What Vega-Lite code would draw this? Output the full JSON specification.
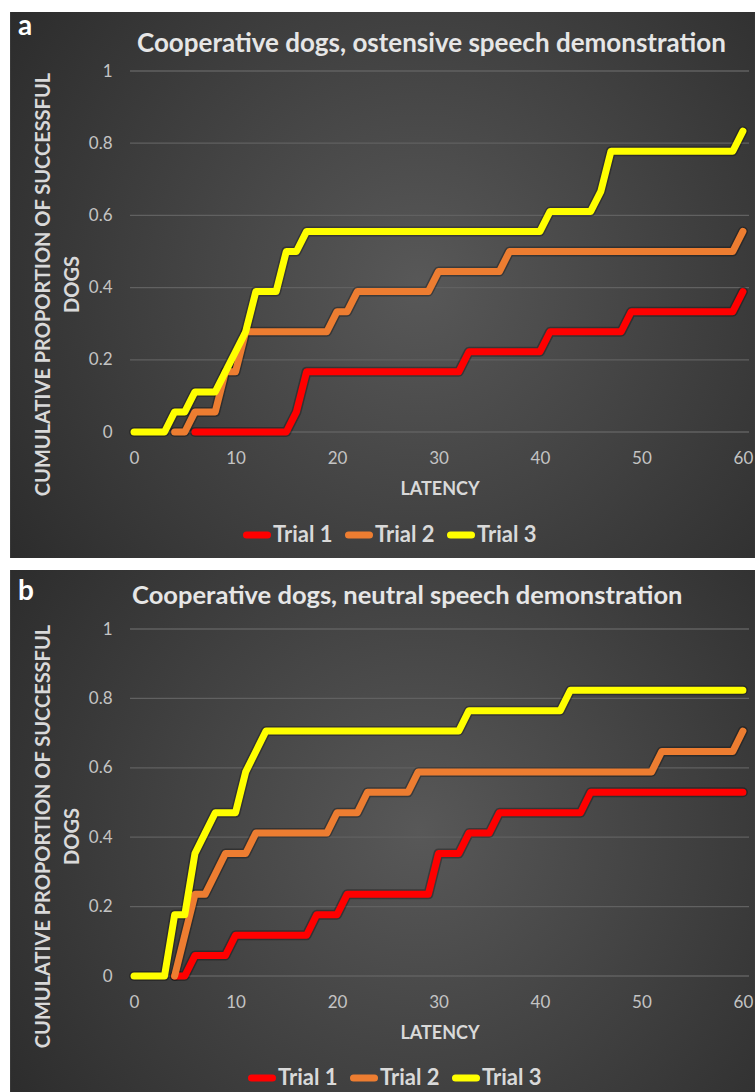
{
  "$schema": "https://vega.github.io/schema/vega-lite/v6.json",
  "background": "white",
  "padding": {"left": 10, "top": 12, "right": 0, "bottom": 0},
  "spacing": 12,
  "resolve": {"scale": {"color": "independent"}, "legend": {"color": "independent"}},
  "config": {
    "font": "Lato",
    "view": {"stroke": null},
    "axis": {"grid": false, "domain": false, "ticks": false, "tickSize": 0, "zindex": 1, "labelFont": "Lato", "labelFontSize": 17, "labelColor": "#c4c4c4", "labelPadding": 18, "titleFont": "Lato", "titleFontSize": 18, "titleFontWeight": "bold", "titleColor": "#d9d9d9"},
    "axisX": {"titlePadding": 14, "format": "d"},
    "axisY": {"titlePadding": 6, "titleLineHeight": 29, "titleFontSize": 20, "format": "~g"},
    "legend": {"orient": "none", "direction": "horizontal", "title": null, "symbolType": "stroke", "symbolSize": 441, "symbolStrokeWidth": 7, "labelFont": "Lato", "labelFontSize": 22, "labelFontWeight": "bold", "labelColor": "#d9d9d9", "labelOffset": 2, "columnPadding": 1, "padding": 0, "labelLimit": 200}
  },
  "datasets": {
    "grid": [{"g": 0}, {"g": 0.2}, {"g": 0.4}, {"g": 0.6}, {"g": 0.8}, {"g": 1}],
    "a": [
      {"t":6,"s":"Trial 1","p":0},{"t":7,"s":"Trial 1","p":0},{"t":8,"s":"Trial 1","p":0},{"t":9,"s":"Trial 1","p":0},{"t":10,"s":"Trial 1","p":0},{"t":11,"s":"Trial 1","p":0},{"t":12,"s":"Trial 1","p":0},{"t":13,"s":"Trial 1","p":0},{"t":14,"s":"Trial 1","p":0},{"t":15,"s":"Trial 1","p":0},
      {"t":16,"s":"Trial 1","p":0.0556},
      {"t":17,"s":"Trial 1","p":0.1667},{"t":18,"s":"Trial 1","p":0.1667},{"t":19,"s":"Trial 1","p":0.1667},{"t":20,"s":"Trial 1","p":0.1667},{"t":21,"s":"Trial 1","p":0.1667},{"t":22,"s":"Trial 1","p":0.1667},{"t":23,"s":"Trial 1","p":0.1667},{"t":24,"s":"Trial 1","p":0.1667},{"t":25,"s":"Trial 1","p":0.1667},{"t":26,"s":"Trial 1","p":0.1667},{"t":27,"s":"Trial 1","p":0.1667},{"t":28,"s":"Trial 1","p":0.1667},{"t":29,"s":"Trial 1","p":0.1667},{"t":30,"s":"Trial 1","p":0.1667},{"t":31,"s":"Trial 1","p":0.1667},{"t":32,"s":"Trial 1","p":0.1667},
      {"t":33,"s":"Trial 1","p":0.2222},{"t":34,"s":"Trial 1","p":0.2222},{"t":35,"s":"Trial 1","p":0.2222},{"t":36,"s":"Trial 1","p":0.2222},{"t":37,"s":"Trial 1","p":0.2222},{"t":38,"s":"Trial 1","p":0.2222},{"t":39,"s":"Trial 1","p":0.2222},{"t":40,"s":"Trial 1","p":0.2222},
      {"t":41,"s":"Trial 1","p":0.2778},{"t":42,"s":"Trial 1","p":0.2778},{"t":43,"s":"Trial 1","p":0.2778},{"t":44,"s":"Trial 1","p":0.2778},{"t":45,"s":"Trial 1","p":0.2778},{"t":46,"s":"Trial 1","p":0.2778},{"t":47,"s":"Trial 1","p":0.2778},{"t":48,"s":"Trial 1","p":0.2778},
      {"t":49,"s":"Trial 1","p":0.3333},{"t":50,"s":"Trial 1","p":0.3333},{"t":51,"s":"Trial 1","p":0.3333},{"t":52,"s":"Trial 1","p":0.3333},{"t":53,"s":"Trial 1","p":0.3333},{"t":54,"s":"Trial 1","p":0.3333},{"t":55,"s":"Trial 1","p":0.3333},{"t":56,"s":"Trial 1","p":0.3333},{"t":57,"s":"Trial 1","p":0.3333},{"t":58,"s":"Trial 1","p":0.3333},{"t":59,"s":"Trial 1","p":0.3333},
      {"t":60,"s":"Trial 1","p":0.3889},
      {"t":4,"s":"Trial 2","p":0},{"t":5,"s":"Trial 2","p":0},
      {"t":6,"s":"Trial 2","p":0.0556},{"t":7,"s":"Trial 2","p":0.0556},{"t":8,"s":"Trial 2","p":0.0556},
      {"t":9,"s":"Trial 2","p":0.1667},{"t":10,"s":"Trial 2","p":0.1667},
      {"t":11,"s":"Trial 2","p":0.2778},{"t":12,"s":"Trial 2","p":0.2778},{"t":13,"s":"Trial 2","p":0.2778},{"t":14,"s":"Trial 2","p":0.2778},{"t":15,"s":"Trial 2","p":0.2778},{"t":16,"s":"Trial 2","p":0.2778},{"t":17,"s":"Trial 2","p":0.2778},{"t":18,"s":"Trial 2","p":0.2778},{"t":19,"s":"Trial 2","p":0.2778},
      {"t":20,"s":"Trial 2","p":0.3333},{"t":21,"s":"Trial 2","p":0.3333},
      {"t":22,"s":"Trial 2","p":0.3889},{"t":23,"s":"Trial 2","p":0.3889},{"t":24,"s":"Trial 2","p":0.3889},{"t":25,"s":"Trial 2","p":0.3889},{"t":26,"s":"Trial 2","p":0.3889},{"t":27,"s":"Trial 2","p":0.3889},{"t":28,"s":"Trial 2","p":0.3889},{"t":29,"s":"Trial 2","p":0.3889},
      {"t":30,"s":"Trial 2","p":0.4444},{"t":31,"s":"Trial 2","p":0.4444},{"t":32,"s":"Trial 2","p":0.4444},{"t":33,"s":"Trial 2","p":0.4444},{"t":34,"s":"Trial 2","p":0.4444},{"t":35,"s":"Trial 2","p":0.4444},{"t":36,"s":"Trial 2","p":0.4444},
      {"t":37,"s":"Trial 2","p":0.5},{"t":38,"s":"Trial 2","p":0.5},{"t":39,"s":"Trial 2","p":0.5},{"t":40,"s":"Trial 2","p":0.5},{"t":41,"s":"Trial 2","p":0.5},{"t":42,"s":"Trial 2","p":0.5},{"t":43,"s":"Trial 2","p":0.5},{"t":44,"s":"Trial 2","p":0.5},{"t":45,"s":"Trial 2","p":0.5},{"t":46,"s":"Trial 2","p":0.5},{"t":47,"s":"Trial 2","p":0.5},{"t":48,"s":"Trial 2","p":0.5},{"t":49,"s":"Trial 2","p":0.5},{"t":50,"s":"Trial 2","p":0.5},{"t":51,"s":"Trial 2","p":0.5},{"t":52,"s":"Trial 2","p":0.5},{"t":53,"s":"Trial 2","p":0.5},{"t":54,"s":"Trial 2","p":0.5},{"t":55,"s":"Trial 2","p":0.5},{"t":56,"s":"Trial 2","p":0.5},{"t":57,"s":"Trial 2","p":0.5},{"t":58,"s":"Trial 2","p":0.5},{"t":59,"s":"Trial 2","p":0.5},
      {"t":60,"s":"Trial 2","p":0.5556},
      {"t":0,"s":"Trial 3","p":0},{"t":1,"s":"Trial 3","p":0},{"t":2,"s":"Trial 3","p":0},{"t":3,"s":"Trial 3","p":0},
      {"t":4,"s":"Trial 3","p":0.0556},{"t":5,"s":"Trial 3","p":0.0556},
      {"t":6,"s":"Trial 3","p":0.1111},{"t":7,"s":"Trial 3","p":0.1111},{"t":8,"s":"Trial 3","p":0.1111},
      {"t":9,"s":"Trial 3","p":0.1667},{"t":10,"s":"Trial 3","p":0.2222},{"t":11,"s":"Trial 3","p":0.2778},
      {"t":12,"s":"Trial 3","p":0.3889},{"t":13,"s":"Trial 3","p":0.3889},{"t":14,"s":"Trial 3","p":0.3889},
      {"t":15,"s":"Trial 3","p":0.5},{"t":16,"s":"Trial 3","p":0.5},
      {"t":17,"s":"Trial 3","p":0.5556},{"t":18,"s":"Trial 3","p":0.5556},{"t":19,"s":"Trial 3","p":0.5556},{"t":20,"s":"Trial 3","p":0.5556},{"t":21,"s":"Trial 3","p":0.5556},{"t":22,"s":"Trial 3","p":0.5556},{"t":23,"s":"Trial 3","p":0.5556},{"t":24,"s":"Trial 3","p":0.5556},{"t":25,"s":"Trial 3","p":0.5556},{"t":26,"s":"Trial 3","p":0.5556},{"t":27,"s":"Trial 3","p":0.5556},{"t":28,"s":"Trial 3","p":0.5556},{"t":29,"s":"Trial 3","p":0.5556},{"t":30,"s":"Trial 3","p":0.5556},{"t":31,"s":"Trial 3","p":0.5556},{"t":32,"s":"Trial 3","p":0.5556},{"t":33,"s":"Trial 3","p":0.5556},{"t":34,"s":"Trial 3","p":0.5556},{"t":35,"s":"Trial 3","p":0.5556},{"t":36,"s":"Trial 3","p":0.5556},{"t":37,"s":"Trial 3","p":0.5556},{"t":38,"s":"Trial 3","p":0.5556},{"t":39,"s":"Trial 3","p":0.5556},{"t":40,"s":"Trial 3","p":0.5556},
      {"t":41,"s":"Trial 3","p":0.6111},{"t":42,"s":"Trial 3","p":0.6111},{"t":43,"s":"Trial 3","p":0.6111},{"t":44,"s":"Trial 3","p":0.6111},{"t":45,"s":"Trial 3","p":0.6111},
      {"t":46,"s":"Trial 3","p":0.6667},
      {"t":47,"s":"Trial 3","p":0.7778},{"t":48,"s":"Trial 3","p":0.7778},{"t":49,"s":"Trial 3","p":0.7778},{"t":50,"s":"Trial 3","p":0.7778},{"t":51,"s":"Trial 3","p":0.7778},{"t":52,"s":"Trial 3","p":0.7778},{"t":53,"s":"Trial 3","p":0.7778},{"t":54,"s":"Trial 3","p":0.7778},{"t":55,"s":"Trial 3","p":0.7778},{"t":56,"s":"Trial 3","p":0.7778},{"t":57,"s":"Trial 3","p":0.7778},{"t":58,"s":"Trial 3","p":0.7778},{"t":59,"s":"Trial 3","p":0.7778},
      {"t":60,"s":"Trial 3","p":0.8333}
    ],
    "b": [
      {"t":4,"s":"Trial 1","p":0},{"t":5,"s":"Trial 1","p":0},
      {"t":6,"s":"Trial 1","p":0.0588},{"t":7,"s":"Trial 1","p":0.0588},{"t":8,"s":"Trial 1","p":0.0588},{"t":9,"s":"Trial 1","p":0.0588},
      {"t":10,"s":"Trial 1","p":0.1176},{"t":11,"s":"Trial 1","p":0.1176},{"t":12,"s":"Trial 1","p":0.1176},{"t":13,"s":"Trial 1","p":0.1176},{"t":14,"s":"Trial 1","p":0.1176},{"t":15,"s":"Trial 1","p":0.1176},{"t":16,"s":"Trial 1","p":0.1176},{"t":17,"s":"Trial 1","p":0.1176},
      {"t":18,"s":"Trial 1","p":0.1765},{"t":19,"s":"Trial 1","p":0.1765},{"t":20,"s":"Trial 1","p":0.1765},
      {"t":21,"s":"Trial 1","p":0.2353},{"t":22,"s":"Trial 1","p":0.2353},{"t":23,"s":"Trial 1","p":0.2353},{"t":24,"s":"Trial 1","p":0.2353},{"t":25,"s":"Trial 1","p":0.2353},{"t":26,"s":"Trial 1","p":0.2353},{"t":27,"s":"Trial 1","p":0.2353},{"t":28,"s":"Trial 1","p":0.2353},{"t":29,"s":"Trial 1","p":0.2353},
      {"t":30,"s":"Trial 1","p":0.3529},{"t":31,"s":"Trial 1","p":0.3529},{"t":32,"s":"Trial 1","p":0.3529},
      {"t":33,"s":"Trial 1","p":0.4118},{"t":34,"s":"Trial 1","p":0.4118},{"t":35,"s":"Trial 1","p":0.4118},
      {"t":36,"s":"Trial 1","p":0.4706},{"t":37,"s":"Trial 1","p":0.4706},{"t":38,"s":"Trial 1","p":0.4706},{"t":39,"s":"Trial 1","p":0.4706},{"t":40,"s":"Trial 1","p":0.4706},{"t":41,"s":"Trial 1","p":0.4706},{"t":42,"s":"Trial 1","p":0.4706},{"t":43,"s":"Trial 1","p":0.4706},{"t":44,"s":"Trial 1","p":0.4706},
      {"t":45,"s":"Trial 1","p":0.5294},{"t":46,"s":"Trial 1","p":0.5294},{"t":47,"s":"Trial 1","p":0.5294},{"t":48,"s":"Trial 1","p":0.5294},{"t":49,"s":"Trial 1","p":0.5294},{"t":50,"s":"Trial 1","p":0.5294},{"t":51,"s":"Trial 1","p":0.5294},{"t":52,"s":"Trial 1","p":0.5294},{"t":53,"s":"Trial 1","p":0.5294},{"t":54,"s":"Trial 1","p":0.5294},{"t":55,"s":"Trial 1","p":0.5294},{"t":56,"s":"Trial 1","p":0.5294},{"t":57,"s":"Trial 1","p":0.5294},{"t":58,"s":"Trial 1","p":0.5294},{"t":59,"s":"Trial 1","p":0.5294},{"t":60,"s":"Trial 1","p":0.5294},
      {"t":4,"s":"Trial 2","p":0},
      {"t":5,"s":"Trial 2","p":0.1176},
      {"t":6,"s":"Trial 2","p":0.2353},{"t":7,"s":"Trial 2","p":0.2353},
      {"t":8,"s":"Trial 2","p":0.2941},
      {"t":9,"s":"Trial 2","p":0.3529},{"t":10,"s":"Trial 2","p":0.3529},{"t":11,"s":"Trial 2","p":0.3529},
      {"t":12,"s":"Trial 2","p":0.4118},{"t":13,"s":"Trial 2","p":0.4118},{"t":14,"s":"Trial 2","p":0.4118},{"t":15,"s":"Trial 2","p":0.4118},{"t":16,"s":"Trial 2","p":0.4118},{"t":17,"s":"Trial 2","p":0.4118},{"t":18,"s":"Trial 2","p":0.4118},{"t":19,"s":"Trial 2","p":0.4118},
      {"t":20,"s":"Trial 2","p":0.4706},{"t":21,"s":"Trial 2","p":0.4706},{"t":22,"s":"Trial 2","p":0.4706},
      {"t":23,"s":"Trial 2","p":0.5294},{"t":24,"s":"Trial 2","p":0.5294},{"t":25,"s":"Trial 2","p":0.5294},{"t":26,"s":"Trial 2","p":0.5294},{"t":27,"s":"Trial 2","p":0.5294},
      {"t":28,"s":"Trial 2","p":0.5882},{"t":29,"s":"Trial 2","p":0.5882},{"t":30,"s":"Trial 2","p":0.5882},{"t":31,"s":"Trial 2","p":0.5882},{"t":32,"s":"Trial 2","p":0.5882},{"t":33,"s":"Trial 2","p":0.5882},{"t":34,"s":"Trial 2","p":0.5882},{"t":35,"s":"Trial 2","p":0.5882},{"t":36,"s":"Trial 2","p":0.5882},{"t":37,"s":"Trial 2","p":0.5882},{"t":38,"s":"Trial 2","p":0.5882},{"t":39,"s":"Trial 2","p":0.5882},{"t":40,"s":"Trial 2","p":0.5882},{"t":41,"s":"Trial 2","p":0.5882},{"t":42,"s":"Trial 2","p":0.5882},{"t":43,"s":"Trial 2","p":0.5882},{"t":44,"s":"Trial 2","p":0.5882},{"t":45,"s":"Trial 2","p":0.5882},{"t":46,"s":"Trial 2","p":0.5882},{"t":47,"s":"Trial 2","p":0.5882},{"t":48,"s":"Trial 2","p":0.5882},{"t":49,"s":"Trial 2","p":0.5882},{"t":50,"s":"Trial 2","p":0.5882},{"t":51,"s":"Trial 2","p":0.5882},
      {"t":52,"s":"Trial 2","p":0.6471},{"t":53,"s":"Trial 2","p":0.6471},{"t":54,"s":"Trial 2","p":0.6471},{"t":55,"s":"Trial 2","p":0.6471},{"t":56,"s":"Trial 2","p":0.6471},{"t":57,"s":"Trial 2","p":0.6471},{"t":58,"s":"Trial 2","p":0.6471},{"t":59,"s":"Trial 2","p":0.6471},
      {"t":60,"s":"Trial 2","p":0.7059},
      {"t":0,"s":"Trial 3","p":0},{"t":1,"s":"Trial 3","p":0},{"t":2,"s":"Trial 3","p":0},{"t":3,"s":"Trial 3","p":0},
      {"t":4,"s":"Trial 3","p":0.1765},{"t":5,"s":"Trial 3","p":0.1765},
      {"t":6,"s":"Trial 3","p":0.3529},{"t":7,"s":"Trial 3","p":0.4118},
      {"t":8,"s":"Trial 3","p":0.4706},{"t":9,"s":"Trial 3","p":0.4706},{"t":10,"s":"Trial 3","p":0.4706},
      {"t":11,"s":"Trial 3","p":0.5882},{"t":12,"s":"Trial 3","p":0.6471},
      {"t":13,"s":"Trial 3","p":0.7059},{"t":14,"s":"Trial 3","p":0.7059},{"t":15,"s":"Trial 3","p":0.7059},{"t":16,"s":"Trial 3","p":0.7059},{"t":17,"s":"Trial 3","p":0.7059},{"t":18,"s":"Trial 3","p":0.7059},{"t":19,"s":"Trial 3","p":0.7059},{"t":20,"s":"Trial 3","p":0.7059},{"t":21,"s":"Trial 3","p":0.7059},{"t":22,"s":"Trial 3","p":0.7059},{"t":23,"s":"Trial 3","p":0.7059},{"t":24,"s":"Trial 3","p":0.7059},{"t":25,"s":"Trial 3","p":0.7059},{"t":26,"s":"Trial 3","p":0.7059},{"t":27,"s":"Trial 3","p":0.7059},{"t":28,"s":"Trial 3","p":0.7059},{"t":29,"s":"Trial 3","p":0.7059},{"t":30,"s":"Trial 3","p":0.7059},{"t":31,"s":"Trial 3","p":0.7059},{"t":32,"s":"Trial 3","p":0.7059},
      {"t":33,"s":"Trial 3","p":0.7647},{"t":34,"s":"Trial 3","p":0.7647},{"t":35,"s":"Trial 3","p":0.7647},{"t":36,"s":"Trial 3","p":0.7647},{"t":37,"s":"Trial 3","p":0.7647},{"t":38,"s":"Trial 3","p":0.7647},{"t":39,"s":"Trial 3","p":0.7647},{"t":40,"s":"Trial 3","p":0.7647},{"t":41,"s":"Trial 3","p":0.7647},{"t":42,"s":"Trial 3","p":0.7647},
      {"t":43,"s":"Trial 3","p":0.8235},{"t":44,"s":"Trial 3","p":0.8235},{"t":45,"s":"Trial 3","p":0.8235},{"t":46,"s":"Trial 3","p":0.8235},{"t":47,"s":"Trial 3","p":0.8235},{"t":48,"s":"Trial 3","p":0.8235},{"t":49,"s":"Trial 3","p":0.8235},{"t":50,"s":"Trial 3","p":0.8235},{"t":51,"s":"Trial 3","p":0.8235},{"t":52,"s":"Trial 3","p":0.8235},{"t":53,"s":"Trial 3","p":0.8235},{"t":54,"s":"Trial 3","p":0.8235},{"t":55,"s":"Trial 3","p":0.8235},{"t":56,"s":"Trial 3","p":0.8235},{"t":57,"s":"Trial 3","p":0.8235},{"t":58,"s":"Trial 3","p":0.8235},{"t":59,"s":"Trial 3","p":0.8235},{"t":60,"s":"Trial 3","p":0.8235}
    ]
  },
  "vconcat": [
    {
      "width": 619,
      "height": 361,
      "layer": [
        {
          "data": {"values": [{}]},
          "mark": {"type": "rect", "color": {"gradient": "radial", "x1": 0.55, "y1": 0.5, "x2": 0.55, "y2": 0.5, "r1": 0, "r2": 0.75, "stops": [{"offset": 0, "color": "#585858"}, {"offset": 1, "color": "#262626"}]}},
          "encoding": {
            "x": {"datum": -12.22, "type": "quantitative", "scale": {"domain": [-0.4, 60.6], "nice": false, "zero": false}},
            "x2": {"datum": 61.19},
            "y": {"datum": 1.1634, "type": "quantitative", "scale": {"domain": [0, 1], "nice": false, "zero": false}},
            "y2": {"datum": -0.349}
          }
        },
        {
          "data": {"name": "grid"},
          "mark": {"type": "rule", "color": "#616161", "strokeWidth": 1.3},
          "encoding": {
            "y": {"field": "g", "type": "quantitative", "scale": {"domain": [0, 1], "nice": false, "zero": false}},
            "x": {"datum": -0.4, "type": "quantitative", "scale": {"domain": [-0.4, 60.6], "nice": false, "zero": false}},
            "x2": {"datum": 60.6}
          }
        },
        {
          "data": {"name": "a"},
          "mark": {"type": "line", "color": "#000000", "opacity": 0.3, "strokeWidth": 10, "strokeCap": "round", "strokeJoin": "round"},
          "encoding": {
            "x": {"field": "t", "type": "quantitative", "scale": {"domain": [-0.4, 60.6], "nice": false, "zero": false}},
            "y": {"field": "p", "type": "quantitative", "scale": {"domain": [0, 1], "nice": false, "zero": false}},
            "detail": {"field": "s"}
          }
        },
        {
          "data": {"name": "a"},
          "mark": {"type": "line", "strokeWidth": 7, "strokeCap": "round", "strokeJoin": "round"},
          "encoding": {
            "x": {"field": "t", "type": "quantitative", "scale": {"domain": [-0.4, 60.6], "nice": false, "zero": false}, "axis": {"title": "LATENCY", "values": [0, 10, 20, 30, 40, 50, 60], "zindex": 1}},
            "y": {"field": "p", "type": "quantitative", "scale": {"domain": [0, 1], "nice": false, "zero": false}, "axis": {"title": ["CUMULATIVE PROPORTION OF SUCCESSFUL", "DOGS"], "values": [0, 0.2, 0.4, 0.6, 0.8, 1], "titleY": 213, "zindex": 1}},
            "color": {"field": "s", "type": "nominal", "scale": {"domain": ["Trial 1", "Trial 2", "Trial 3"], "range": ["#FF0000", "#ED7D31", "#FFFF00"]}, "legend": {"legendX": 113, "legendY": 450, "encode": {"symbols": {"update": {"strokeCap": {"value": "round"}}}}}}
          }
        },
        {
          "data": {"values": [{}]},
          "mark": {"type": "text", "text": "Cooperative dogs, ostensive speech demonstration", "align": "left", "baseline": "alphabetic", "font": "Lato", "fontSize": 26, "fontWeight": "bold", "color": "#e6e6e6"},
          "encoding": {
            "x": {"datum": 0.29, "type": "quantitative", "scale": {"domain": [-0.4, 60.6], "nice": false, "zero": false}},
            "y": {"datum": 1.0526, "type": "quantitative", "scale": {"domain": [0, 1], "nice": false, "zero": false}}
          }
        },
        {
          "data": {"values": [{}]},
          "mark": {"type": "text", "text": "a", "align": "left", "baseline": "alphabetic", "font": "Lato", "fontSize": 28, "fontWeight": "bold", "color": "#ffffff"},
          "encoding": {
            "x": {"datum": -11.43, "type": "quantitative", "scale": {"domain": [-0.4, 60.6], "nice": false, "zero": false}},
            "y": {"datum": 1.0997, "type": "quantitative", "scale": {"domain": [0, 1], "nice": false, "zero": false}}
          }
        }
      ]
    },
    {
      "width": 619,
      "height": 347,
      "layer": [
        {
          "data": {"values": [{}]},
          "mark": {"type": "rect", "color": {"gradient": "radial", "x1": 0.55, "y1": 0.5, "x2": 0.55, "y2": 0.5, "r1": 0, "r2": 0.75, "stops": [{"offset": 0, "color": "#585858"}, {"offset": 1, "color": "#262626"}]}},
          "encoding": {
            "x": {"datum": -12.22, "type": "quantitative", "scale": {"domain": [-0.4, 60.6], "nice": false, "zero": false}},
            "x2": {"datum": 61.19},
            "y": {"datum": 1.17, "type": "quantitative", "scale": {"domain": [0, 1], "nice": false, "zero": false}},
            "y2": {"datum": -0.337}
          }
        },
        {
          "data": {"name": "grid"},
          "mark": {"type": "rule", "color": "#616161", "strokeWidth": 1.3},
          "encoding": {
            "y": {"field": "g", "type": "quantitative", "scale": {"domain": [0, 1], "nice": false, "zero": false}},
            "x": {"datum": -0.4, "type": "quantitative", "scale": {"domain": [-0.4, 60.6], "nice": false, "zero": false}},
            "x2": {"datum": 60.6}
          }
        },
        {
          "data": {"name": "b"},
          "mark": {"type": "line", "color": "#000000", "opacity": 0.3, "strokeWidth": 10, "strokeCap": "round", "strokeJoin": "round"},
          "encoding": {
            "x": {"field": "t", "type": "quantitative", "scale": {"domain": [-0.4, 60.6], "nice": false, "zero": false}},
            "y": {"field": "p", "type": "quantitative", "scale": {"domain": [0, 1], "nice": false, "zero": false}},
            "detail": {"field": "s"}
          }
        },
        {
          "data": {"name": "b"},
          "mark": {"type": "line", "strokeWidth": 7, "strokeCap": "round", "strokeJoin": "round"},
          "encoding": {
            "x": {"field": "t", "type": "quantitative", "scale": {"domain": [-0.4, 60.6], "nice": false, "zero": false}, "axis": {"title": "LATENCY", "values": [0, 10, 20, 30, 40, 50, 60], "zindex": 1}},
            "y": {"field": "p", "type": "quantitative", "scale": {"domain": [0, 1], "nice": false, "zero": false}, "axis": {"title": ["CUMULATIVE PROPORTION OF SUCCESSFUL", "DOGS"], "values": [0, 0.2, 0.4, 0.6, 0.8, 1], "titleY": 207, "zindex": 1}},
            "color": {"field": "s", "type": "nominal", "scale": {"domain": ["Trial 1", "Trial 2", "Trial 3"], "range": ["#FF0000", "#ED7D31", "#FFFF00"]}, "legend": {"legendX": 118, "legendY": 435, "encode": {"symbols": {"update": {"strokeCap": {"value": "round"}}}}}}
          }
        },
        {
          "data": {"values": [{}]},
          "mark": {"type": "text", "text": "Cooperative dogs, neutral speech demonstration", "align": "left", "baseline": "alphabetic", "font": "Lato", "fontSize": 25.5, "fontWeight": "bold", "color": "#e6e6e6"},
          "encoding": {
            "x": {"datum": -0.2, "type": "quantitative", "scale": {"domain": [-0.4, 60.6], "nice": false, "zero": false}},
            "y": {"datum": 1.072, "type": "quantitative", "scale": {"domain": [0, 1], "nice": false, "zero": false}}
          }
        },
        {
          "data": {"values": [{}]},
          "mark": {"type": "text", "text": "b", "align": "left", "baseline": "alphabetic", "font": "Lato", "fontSize": 28, "fontWeight": "bold", "color": "#ffffff"},
          "encoding": {
            "x": {"datum": -11.43, "type": "quantitative", "scale": {"domain": [-0.4, 60.6], "nice": false, "zero": false}},
            "y": {"datum": 1.0836, "type": "quantitative", "scale": {"domain": [0, 1], "nice": false, "zero": false}}
          }
        }
      ]
    }
  ]
}
